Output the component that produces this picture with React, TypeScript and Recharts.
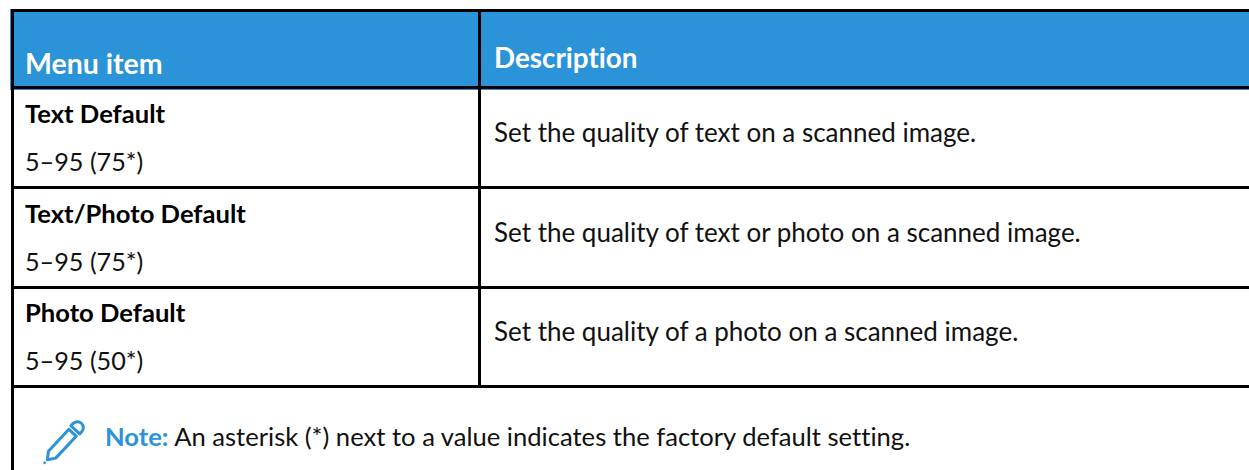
import React from 'react';
import { ComposedChart, XAxis, YAxis, Scatter, ReferenceArea, ReferenceLine } from 'recharts';

const headers = ['Menu item', 'Description'];
const menuItems = ['Text Default', 'Text/Photo Default', 'Photo Default'];
const ranges = ['5–95 (75*)', '5–95 (75*)', '5–95 (50*)'];
const descriptions = [
  'Set the quality of text on a scanned image.',
  'Set the quality of text or photo on a scanned image.',
  'Set the quality of a photo on a scanned image.',
];
const noteLabel = 'Note:';
const noteText = ' An asterisk (*) next to a value indicates the factory default setting.';

const W = 1249;
const H = 470;
const BLUE = '#2b93d7';
const FONT = 'Lato, sans-serif';
const rowLines = [10.5, 87.5, 187.5, 287.5, 386.5];
const rowTops = [89, 189, 288];

const cells = [
  { x: 25, y: 74, text: headers[0], kind: 'menuHead' },
  { x: 494, y: 68, text: headers[1], kind: 'descHead' },
  ...menuItems.map((text, i) => ({ x: 25, y: rowTops[i] + 34, text, kind: 'item' })),
  ...ranges.map((text, i) => ({ x: 25, y: rowTops[i] + 82, text, kind: 'range' })),
  ...descriptions.map((text, i) => ({ x: 494, y: rowTops[i] + 52.5, text, kind: 'desc' })),
  { x: 105, y: 446, text: noteText, kind: 'note' },
];

const styles: Record<string, any> = {
  menuHead: { fill: '#ffffff', fontSize: 28.5, fontWeight: 700 },
  descHead: { fill: '#ffffff', fontSize: 27.8, fontWeight: 700 },
  item: { fill: '#000000', fontSize: 25.6, fontWeight: 700 },
  range: { fill: '#111111', fontSize: 25.2, fontWeight: 400 },
  desc: { fill: '#111111', fontSize: 26, fontWeight: 400 },
  note: { fill: '#111111', fontSize: 25.6, fontWeight: 400 },
};

const CellText = ({ cx, cy, payload }: any) => (
  <text x={cx} y={cy} fontFamily={FONT} style={{ fontVariantLigatures: 'none' }} {...styles[payload.kind]}>
    {payload.kind === 'note' && <tspan fill={BLUE} fontWeight={700}>{noteLabel}</tspan>}
    <tspan xmlSpace="preserve">{payload.text}</tspan>
  </text>
);

const Pencil = ({ cx, cy }: any) => (
  <g transform={`translate(${cx} ${cy}) rotate(-47)`} fill="none" stroke={BLUE} strokeWidth={3} strokeLinejoin="round">
    <path d="M-23 0 L-16 -5 L14 -5 L14 5 L-16 5 Z" />
    <path d="M18 -6 L21 -6 A6 6 0 0 1 21 6 L18 6 Z" />
    <circle cx={-27} cy={0} r={1.2} fill={BLUE} strokeWidth={0.5} />
  </g>
);

export default function App() {
  return (
    <div style={{ width: W, height: H, background: '#fff', overflow: 'hidden' }}>
      <style>{'body{margin:0}'}</style>
      <ComposedChart width={W} height={H} data={cells} margin={{ top: 0, right: 0, bottom: 0, left: 0 }}>
        <XAxis type="number" dataKey="x" domain={[0, W]} hide />
        <YAxis type="number" dataKey="y" domain={[0, H]} reversed hide />
        <ReferenceArea x1={10} x2={W} y1={9} y2={90} fill={BLUE} fillOpacity={1} stroke="none" />
        {rowLines.map((y) => (
          <ReferenceLine key={y} segment={[{ x: 11, y }, { x: W, y }]} stroke="#000" strokeWidth={3} />
        ))}
        <ReferenceLine segment={[{ x: 12.5, y: 9 }, { x: 12.5, y: H }]} stroke="#000" strokeWidth={3} />
        <ReferenceLine segment={[{ x: 479.5, y: 9 }, { x: 479.5, y: 386 }]} stroke="#000" strokeWidth={3} />
        <Scatter data={cells} dataKey="y" shape={<CellText />} isAnimationActive={false} />
        <Scatter data={[{ x: 63, y: 443 }]} dataKey="y" shape={<Pencil />} isAnimationActive={false} />
      </ComposedChart>
    </div>
  );
}
